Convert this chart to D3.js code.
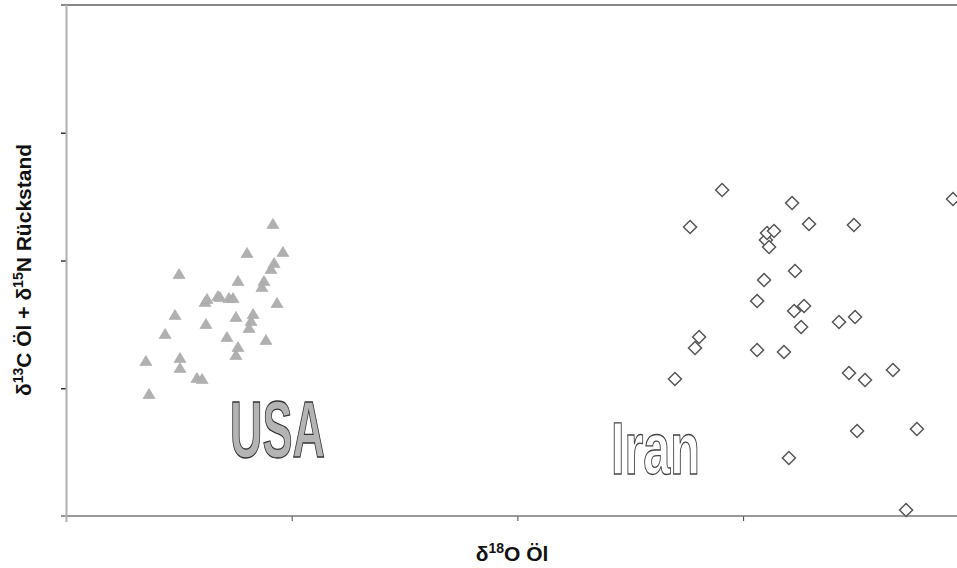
<!DOCTYPE html>
<html>
<head>
<meta charset="utf-8">
<script src="https://cdn.jsdelivr.net/npm/d3@7"></script>
<style>
  html, body { margin: 0; padding: 0; background: #fff; overflow: hidden; }
  svg { display: block; }
</style>
</head>
<body>
<svg id="chart" width="957" height="568"></svg>
<script>
// ---- data (axis units) ----
const usaX = [0.354,0.368,0.439,0.483,0.501,0.505,0.505,0.580,0.603,0.616,0.625,0.620,0.673,0.682,0.722,0.740,0.713,0.753,0.762,0.753,0.762,0.802,0.820,0.829,0.811,0.877,0.868,0.886,0.908,0.922,0.917,0.961,0.935];
const usaY = [1.213,0.955,1.425,1.573,1.894,1.237,1.159,1.080,1.072,1.675,1.699,1.503,1.722,1.714,1.706,1.706,1.401,1.558,1.840,1.260,1.323,2.059,1.526,1.581,1.472,1.840,1.793,1.378,1.933,1.980,2.286,2.067,1.667];
const iranX = [2.698,2.765,2.787,2.805,2.907,3.062,3.062,3.093,3.101,3.106,3.115,3.137,3.181,3.203,3.217,3.230,3.226,3.257,3.270,3.292,3.425,3.469,3.491,3.496,3.505,3.540,3.664,3.722,3.770,3.930];
const iranY = [1.072,2.262,1.315,1.401,2.552,1.299,1.683,1.847,2.160,2.215,2.106,2.231,1.284,0.454,2.450,1.918,1.605,1.479,1.644,2.286,1.519,1.119,2.278,1.558,0.665,1.065,1.143,0.047,0.681,2.481];
const xTicks = [0, 1, 2, 3];
const yTicks = [0, 1, 2, 3, 4];
const groupLabels = ["USA", "Iran"];
const xTitle = ["δ", "18", "O Öl"];
const yTitle = ["δ", "13", "C Öl + δ", "15", "N Rückstand"];

// ---- layout ----
const svg = d3.select("#chart");
const x = d3.scaleLinear().domain([0, 4]).range([66, 66 + 4 * 225.7]);
const y = d3.scaleLinear().domain([0, 4]).range([516, 5]);
const font = "'Liberation Sans', Arial, sans-serif";

// top border
svg.append("line").attr("x1", 61).attr("x2", 957).attr("y1", y(4)).attr("y2", y(4))
  .attr("stroke", "#111").attr("stroke-width", 1.2);

// x axis
const xAxis = svg.append("g").attr("transform", `translate(0,${y(0)})`)
  .call(d3.axisBottom(x).tickValues(xTicks).tickSize(5).tickFormat(""));
xAxis.select(".domain").remove();
xAxis.selectAll(".tick line").attr("stroke", "#444").attr("stroke-width", 1);
svg.append("line").attr("x1", 61).attr("x2", 957).attr("y1", y(0)).attr("y2", y(0))
  .attr("stroke", "#777").attr("stroke-width", 1.5);

// y axis
const yAxis = svg.append("g").attr("transform", `translate(${x(0)},0)`)
  .call(d3.axisLeft(y).tickValues(yTicks.slice(1, 4)).tickSize(5).tickFormat(""));
yAxis.select(".domain").remove();
yAxis.selectAll(".tick line").attr("stroke", "#333").attr("stroke-width", 1.5);
svg.append("line").attr("x1", x(0) + 0.5).attr("x2", x(0) + 0.5).attr("y1", y(4)).attr("y2", y(0) + 6)
  .attr("stroke", "#b0b0b0").attr("stroke-width", 2);

// USA triangles
const usa = usaX.map((v, i) => ({ x: v, y: usaY[i] }));
svg.append("g").selectAll("path").data(usa).join("path")
  .attr("transform", d => `translate(${x(d.x)},${y(d.y)})`)
  .attr("d", "M0,-5.5L6,4.5L-6,4.5Z")
  .attr("fill", "#b0b0b0").attr("stroke", "#a8a8a8").attr("stroke-width", 0.6);

// Iran diamonds
const iran = iranX.map((v, i) => ({ x: v, y: iranY[i] }));
svg.append("g").selectAll("path").data(iran).join("path")
  .attr("transform", d => `translate(${x(d.x)},${y(d.y)})`)
  .attr("d", "M0,-6.5L6.5,0L0,6.5L-6.5,0Z")
  .attr("fill", "#fff").attr("stroke", "#555").attr("stroke-width", 1.5);

// group labels
svg.append("text").text(groupLabels[0])
  .attr("x", 230).attr("y", 457)
  .attr("textLength", 95).attr("lengthAdjust", "spacingAndGlyphs")
  .attr("font-family", "'Liberation Sans Narrow', 'Liberation Sans', Arial, sans-serif")
  .attr("font-weight", "bold").attr("font-size", 79)
  .attr("fill", "#b4b4b4").attr("stroke", "#333").attr("stroke-width", 1.3);
svg.append("text").text(groupLabels[1])
  .attr("x", 611).attr("y", 474)
  .attr("textLength", 89).attr("lengthAdjust", "spacingAndGlyphs")
  .attr("font-family", "'Liberation Sans Narrow', 'Liberation Sans', Arial, sans-serif")
  .attr("font-weight", "bold").attr("font-size", 74)
  .attr("fill", "#fff").attr("stroke", "#444").attr("stroke-width", 1.3);

// axis titles
function titled(sel, parts) {
  parts.forEach((p, i) => {
    const sup = i % 2 === 1;
    sel.append("tspan").text(p)
      .attr("font-size", sup ? 14 : 21)
      .attr("dy", sup ? -8 : (i > 0 ? 8 : 0));
  });
}
const xt = svg.append("text").attr("x", 512).attr("y", 561)
  .attr("text-anchor", "middle").attr("font-family", font).attr("font-weight", "bold").attr("fill", "#111");
titled(xt, xTitle);
const yt = svg.append("text").attr("transform", "translate(31,270) rotate(-90)")
  .attr("text-anchor", "middle").attr("font-family", font).attr("font-weight", "bold").attr("fill", "#111");
titled(yt, yTitle);
</script>
</body>
</html>
